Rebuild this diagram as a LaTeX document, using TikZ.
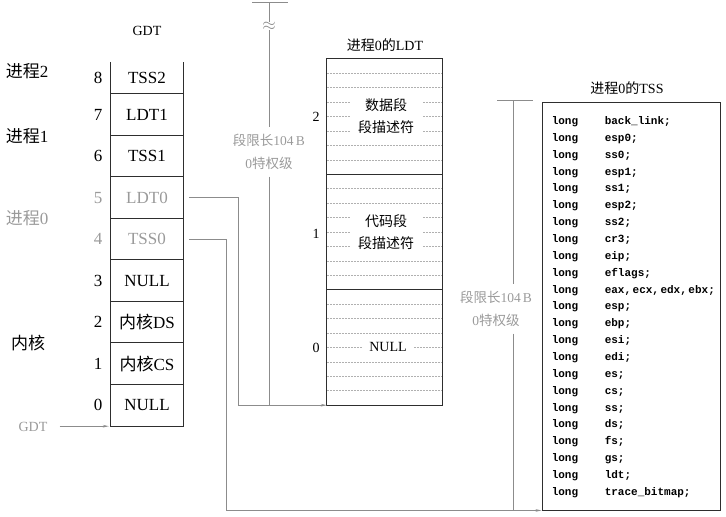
\documentclass[tikz,border=0pt]{standalone}
\usepackage{fontspec}
\setmainfont{Liberation Serif}
\setmonofont{Liberation Mono}
\newfontfamily\cjk{Noto Sans CJK SC}
\usetikzlibrary{arrows.meta,calc}
\newcommand{\zh}[1]{{\cjk #1}}
\definecolor{inkgray}{HTML}{9A9A9A}
\definecolor{linegray}{HTML}{8C8C8C}
\definecolor{framegray}{HTML}{2E2E2E}
\definecolor{dashgray}{HTML}{B0B0B0}

\begin{document}
\begin{tikzpicture}[x=1pt,y=-1pt,
  big/.style={font=\fontsize{17}{20}\selectfont, inner sep=1pt},
  titletext/.style={font=\fontsize{14}{16}\selectfont, inner sep=1pt},
  gdtrow/.style={big, minimum width=72pt, minimum height=41.5pt, inner sep=0pt},
  ldtsec/.style={minimum width=115pt, minimum height=115.333pt, inner sep=0pt},
  ldttext/.style={font=\fontsize{14}{22}\selectfont, align=center, fill=white,
                  minimum width=73pt, inner ysep=2pt, inner xsep=0pt},
  ldtnum/.style={font=\fontsize{14}{16}\selectfont, inner sep=1pt},
  frame/.style={draw=framegray, line width=0.9pt},
  dashrule/.style={draw=dashgray, line width=0.5pt, dash pattern=on 2pt off 1pt},
  conn/.style={draw=linegray, line width=0.8pt},
  tip/.style={-{Stealth[length=6pt,width=2.6pt]}},
  limit/.style={text=inkgray, align=center, font=\fontsize{13.5}{22.5}\selectfont,
                inner xsep=1pt, inner ysep=7pt},
  tsscell/.style={font=\fontsize{11}{13}\selectfont\ttfamily\bfseries, inner sep=0pt, anchor=base west},
]
\useasboundingbox (0,0) rectangle (726,517);

% ---------- GDT ----------
\node[titletext] (gdttitle) at (147,31) {GDT};
\node[gdtrow] (g0) at (147,405.25) {NULL};
\node[gdtrow] (g1) at (147,363.75) {\zh{内核}CS};
\node[gdtrow] (g2) at (147,322.25) {\zh{内核}DS};
\node[gdtrow] (g3) at (147,280.75) {NULL};
\node[gdtrow,text=inkgray] (g4) at (147,239.25) {TSS0};
\node[gdtrow,text=inkgray] (g5) at (147,197.75) {LDT0};
\node[gdtrow] (g6) at (147,156.25) {TSS1};
\node[gdtrow] (g7) at (147,114.75) {LDT1};
\node[gdtrow,minimum height=32pt] (g8) at (147,78) {TSS2};

\draw[frame] (g8.north west) -- (g0.south west) -- (g0.south east) -- (g8.north east);
\foreach \i in {0,...,7}
  \draw[frame] (g\i.north west) -- (g\i.north east);

\foreach \i/\c in {0/black,1/black,2/black,3/black,4/inkgray,5/inkgray,6/black,7/black,8/black}
  \node[big,text=\c] (n\i) at ([xshift=-49pt]g\i.center) {\i};

% process groups
\node[big] (p2) at (27,71) {\zh{进程}2};
\node[big] (p1) at (27,136) {\zh{进程}1};
\node[big,text=inkgray] (p0) at (27,218) {\zh{进程}0};
\node[big] (kern) at (28,343) {\zh{内核}};

% GDTR pointer
\node[titletext,text=inkgray] (gdtptr) at (33,427) {GDT};
\draw[conn,tip,shorten <=11pt,shorten >=2pt] (gdtptr.east |- g0.south west) -- (g0.south west);

% ---------- LDT of process 0 ----------
\node[titletext] (ldttitle) at (385,45) {\zh{进程}0\zh{的}LDT};
\node[ldtsec] (l2) at (384.5,116.667) {};
\node[ldtsec] (l1) at (384.5,232) {};
\node[ldtsec] (l0) at (384.5,347.333) {};
\foreach \s in {l0,l1,l2}
  \foreach \k in {1,...,7}
    \draw[dashrule] ($(\s.north west)!\k/8!(\s.south west)$) -- ($(\s.north east)!\k/8!(\s.south east)$);
\draw[frame] (l2.north west) rectangle (l0.south east);
\draw[frame] (l1.north west) -- (l1.north east);
\draw[frame] (l1.south west) -- (l1.south east);

\node[ldttext] (l2t) at (386,116) {\zh{数据段}\\\zh{段描述符}};
\node[ldttext] (l1t) at (386,232) {\zh{代码段}\\\zh{段描述符}};
\node[ldttext,minimum width=51pt] (l0t) at (388,347) {NULL};
\node[ldtnum] (ln2) at (316,117) {2};
\node[ldtnum] (ln1) at (316,234) {1};
\node[ldtnum] (ln0) at (316,348) {0};

% ---------- TSS of process 0 ----------
\node[titletext] (tsstitle) at (627,88) {\zh{进程}0\zh{的}TSS};
\node[frame, minimum width=178pt, minimum height=408pt, inner sep=0pt] (tss) at (631,306) {};
\foreach \f [count=\i from 0] in {back\_link;, esp0;, ss0;, esp1;, ss1;, esp2;, ss2;, cr3;, eip;, eflags;,
    {eax,\hspace{1.5pt}ecx,\hspace{1.5pt}edx,\hspace{1.5pt}ebx;}, esp;, ebp;, esi;, edi;, es;, cs;, ss;, ds;, fs;, gs;, ldt;, trace\_bitmap;} {
  \node[tsscell] (tl\i) at ($(tss.north west)+(10,23+16.85*\i)$) {long};
  \node[tsscell] (tf\i) at ($(tss.north west)+(63,23+16.85*\i)$) {\f};
}

% ---------- connectors from the GDT ----------
\draw[conn,tip] ([xshift=6pt]g5.east) -- ++(49,0) |- (l0.south west);
\draw[conn,tip] ([xshift=6pt]g4.east) -- ++(37,0) |- (tss.south west);

% ---------- segment limit brackets ----------
\coordinate (b1top) at (269,2);
\node[limit] (b1lab) at (269,152) {\zh{段限长}104\,B\\0\zh{特权级}};
\draw[conn] ([xshift=-17pt]b1top) -- ([xshift=19pt]b1top);
\draw[conn] (b1top) -- (b1lab.north);
\draw[conn] (b1lab.south) -- (b1top |- l0.south);
\node[text=linegray, fill=white, inner sep=0.3pt, font=\fontsize{18}{18}\selectfont] (brk) at (269,26) {$\approx$};

\coordinate (b2top) at (513,100);
\node[limit] (b2lab) at (496,309) {\zh{段限长}104\,B\\0\zh{特权级}};
\draw[conn] ([xshift=-16pt]b2top) -- ([xshift=20pt]b2top);
\draw[conn] (b2top) -- (b2top |- b2lab.north);
\draw[conn] (b2top |- b2lab.south) -- (b2top |- tss.south);
\end{tikzpicture}
\end{document}
